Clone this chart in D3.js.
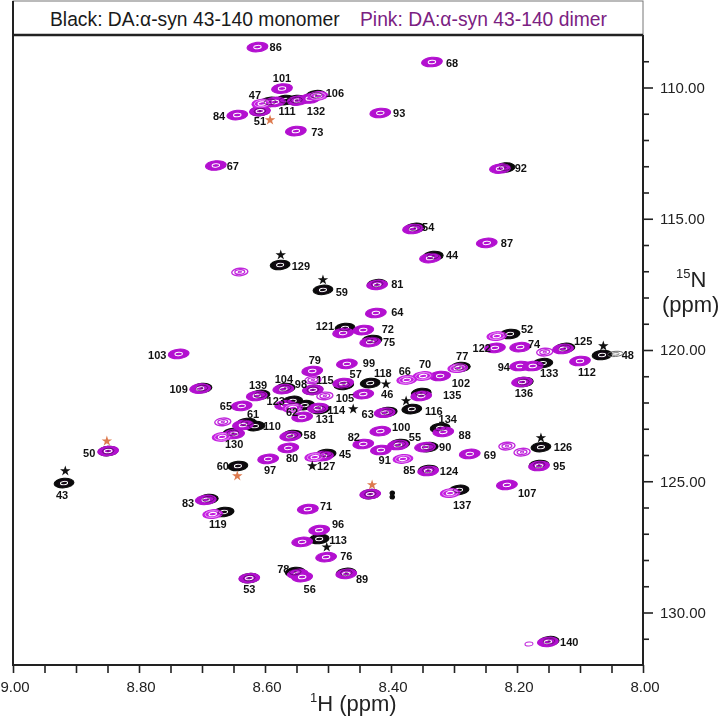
<!DOCTYPE html>
<html><head><meta charset="utf-8">
<script src="https://cdnjs.cloudflare.com/ajax/libs/d3/7.8.5/d3.min.js"></script>
<style>html,body{margin:0;padding:0;background:#fff}svg{display:block}text{font-family:"Liberation Sans",Arial,sans-serif}</style>
</head><body><div id="chart"></div>
<script>
// 1H ppm, 15N ppm
const monomerPeaks = [[8.519,110.29],[8.592,110.55],[8.568,110.48],[8.550,110.48],[8.608,110.90],[8.219,113.05],[8.362,115.35],[8.576,116.76],[8.333,116.42],[8.508,117.71],[8.422,117.49],[8.473,119.16],[8.430,119.62],[8.700,121.45],[8.475,121.33],[8.433,121.26],[8.524,121.52],[8.568,121.45],[8.608,121.71],[8.556,121.94],[8.537,122.10],[8.513,122.25],[8.406,122.36],[8.629,122.78],[8.616,122.90],[8.651,123.16],[8.557,123.24],[8.643,124.42],[8.503,123.96],[8.211,119.39],[8.124,119.92],[8.065,120.19],[8.159,120.50],[8.190,121.22],[8.290,120.65],[8.352,121.64],[8.367,122.25],[8.322,122.97],[8.386,123.58],[8.341,123.70],[8.162,123.70],[8.165,124.38],[8.341,124.57],[8.292,125.33],[8.849,123.85],[8.919,125.07],[8.690,125.68],[8.665,126.17],[8.625,128.69],[8.552,128.46],[8.514,127.20],[8.471,128.49],[8.149,131.09],[8.433,125.49]];
const dimerPeaks = [[8.612,108.46],[8.573,110.04],[8.584,110.55],[8.548,110.50],[8.529,110.42],[8.608,110.90],[8.644,111.05],[8.551,111.66],[8.678,112.97],[8.335,109.03],[8.417,110.97],[8.227,113.09],[8.365,115.39],[8.248,115.92],[8.338,116.50],[8.422,117.52],[8.424,118.59],[8.476,119.35],[8.444,119.24],[8.433,119.70],[8.737,120.15],[8.703,121.47],[8.525,120.80],[8.470,120.53],[8.476,121.26],[8.524,121.52],[8.571,121.49],[8.613,121.75],[8.444,121.68],[8.568,122.10],[8.516,122.21],[8.541,122.55],[8.410,122.39],[8.637,122.13],[8.635,122.86],[8.649,123.20],[8.560,123.28],[8.563,123.73],[8.595,124.15],[8.508,124.04],[8.444,123.58],[8.417,123.09],[8.416,123.81],[8.235,119.92],[8.195,119.89],[8.127,119.96],[8.100,120.42],[8.195,120.61],[8.175,120.61],[8.192,121.22],[8.322,120.99],[8.352,121.75],[8.317,123.12],[8.389,123.62],[8.346,123.70],[8.275,123.96],[8.165,124.42],[8.341,124.61],[8.216,125.14],[8.849,123.85],[8.694,125.71],[8.625,128.69],[8.548,128.53],[8.541,128.65],[8.532,126.06],[8.514,126.86],[8.541,127.31],[8.503,127.89],[8.471,128.53],[8.151,131.12],[8.433,125.49]];
const lightDimerPeaks = [[8.605,110.61],[8.516,110.32],[8.556,122.21],[8.668,123.31],[8.521,124.08],[8.232,119.47],[8.294,120.69],[8.349,120.99],[8.375,121.14],[8.381,124.15],[8.306,125.45],[8.683,126.25]];
const openDimerPeaks = [[8.640,117.03],[8.524,121.14],[8.505,121.75],[8.667,122.74],[8.156,120.08],[8.216,123.66],[8.192,123.89]];
const tinyDimerPeaks = [[8.181,131.20]];
const faintMonomerPeaks = [[8.044,120.15]];
const tinyMonomerPeaks = [[8.398,125.45],[8.398,125.60]];
const residueLabels = [["86",8.583,108.46],["101",8.573,109.64],["106",8.489,110.21],["47",8.616,110.29],["111",8.565,110.90],["132",8.519,110.90],["51",8.608,111.28],["84",8.673,111.09],["73",8.517,111.70],["67",8.651,112.99],["68",8.303,109.07],["93",8.387,110.97],["92",8.194,113.07],["54",8.341,115.31],["87",8.216,115.92],["129",8.543,116.80],["44",8.303,116.38],["59",8.478,117.79],["81",8.390,117.49],["64",8.390,118.55],["121",8.505,119.09],["72",8.405,119.20],["75",8.403,119.70],["52",8.184,119.20],["103",8.771,120.19],["74",8.173,119.77],["122",8.256,119.92],["125",8.095,119.66],["48",8.024,120.19],["94",8.221,120.65],["133",8.149,120.88],["112",8.089,120.84],["136",8.189,121.64],["77",8.287,120.23],["70",8.346,120.53],["66",8.378,120.80],["102",8.289,121.26],["99",8.435,120.50],["79",8.521,120.38],["57",8.456,120.91],["118",8.413,120.88],["115",8.505,121.14],["98",8.543,121.30],["104",8.570,121.10],["139",8.611,121.33],["46",8.406,121.68],["105",8.473,121.83],["123",8.583,121.94],["62",8.557,122.36],["114",8.487,122.29],["131",8.505,122.63],["63",8.437,122.44],["65",8.662,122.13],["61",8.619,122.44],["110",8.589,122.90],["130",8.649,123.58],["58",8.529,123.24],["80",8.557,124.11],["97",8.592,124.57],["60",8.667,124.42],["45",8.473,123.96],["127",8.503,124.42],["82",8.459,123.31],["100",8.384,122.93],["91",8.410,124.19],["135",8.303,121.71],["116",8.332,122.32],["134",8.310,122.63],["88",8.283,123.24],["55",8.362,123.31],["90",8.314,123.70],["69",8.243,124.00],["126",8.127,123.70],["95",8.133,124.42],["85",8.371,124.57],["124",8.308,124.61],["107",8.184,125.45],["137",8.287,125.90],["109",8.737,121.49],["50",8.879,123.92],["43",8.922,125.52],["83",8.722,125.83],["119",8.675,126.63],["53",8.625,129.10],["78",8.571,128.34],["56",8.529,129.10],["71",8.503,125.94],["96",8.484,126.63],["113",8.484,127.24],["76",8.471,127.85],["89",8.446,128.72],["140",8.117,131.12]];
const blackStars = [[8.917,124.61],[8.575,116.38],[8.508,117.33],[8.408,121.30],[8.460,122.25],[8.376,121.94],[8.162,123.35],[8.063,119.85],[8.525,124.42],[8.502,127.51]];
const orangeStars = [[8.851,123.47],[8.592,111.24],[8.644,124.80],[8.430,125.14]];
const hTicks = [9.0,8.8,8.6,8.4,8.2,8.0];
const hMinor = [8.95,8.9,8.85,8.75,8.7,8.65,8.55,8.5,8.45,8.35,8.3,8.25,8.15,8.1,8.05];
const nTicks = [110,115,120,125,130];
const nMinor = [109,111,112,113,114,116,117,118,119,121,122,123,124,126,127,128,129,131];

const svg = d3.select("#chart").append("svg").attr("width",720).attr("height",717);
const x = d3.scaleLinear().domain([9,8]).range([13,643]);
const y = d3.scaleLinear().domain([108,132]).range([35,665]);
const MAG="#b310d0", BLK="#0a0a0a";

// title box
svg.append("rect").attr("x",13).attr("y",1).attr("width",630).attr("height",34).attr("fill","#fff").attr("stroke","#777").attr("stroke-width",1);
svg.append("text").attr("x",50).attr("y",26).attr("font-size",19.3).attr("fill","#1a1a1a").text("Black: DA:α-syn 43-140 monomer");
svg.append("text").attr("x",360).attr("y",26).attr("font-size",19.3).attr("fill","#7b2182").text("Pink: DA:α-syn 43-140 dimer");

function peaks(data,col,rx,ry,levels,opacity){
  const g=svg.append("g").attr("opacity",opacity==null?1:opacity);
  const sel=g.selectAll("g").data(data).join("g")
    .attr("transform",d=>`translate(${x(d[0])},${y(d[1])}) rotate(-5)`);
  levels.forEach(l=>{
    sel.append("ellipse").attr("rx",l.r*rx).attr("ry",l.r*ry)
      .attr("fill",l.fill?col:"none").attr("stroke",l.c||col).attr("stroke-width",l.w||1);
  });
}
const solid=[{r:.95,w:1,fill:true},{r:.34,w:1,c:"#fff"},{r:.1,w:.8}];
const lightRings=[{r:.95,w:1,fill:true},{r:.72,w:.7,c:"#f3c6fa"},{r:.36,w:1.1,c:"#fff"},{r:.1,w:.8}];
const openRings=[{r:.95,w:1.4},{r:.58,w:1.3},{r:.2,w:1}];

peaks(monomerPeaks,BLK,10.5,5,solid);
peaks(faintMonomerPeaks,"#666",8,2.6,[{r:1,w:.9},{r:.5,w:.8}]);
peaks(tinyMonomerPeaks,BLK,2.2,2,[{r:1,w:1.2,fill:true}]);
peaks(openDimerPeaks,"#c028dc",8.5,4,openRings);
peaks(tinyDimerPeaks,"#c028dc",4,2,[{r:1,w:1}]);
peaks(dimerPeaks,MAG,11,5,solid);
peaks(lightDimerPeaks,"#c41ee0",10.5,4.6,lightRings);
// monomer core visible through the overlaid dimer contours
peaks(monomerPeaks,"#2a0a30",10.5,5,[{r:.55,w:.9},{r:.12,w:.8}],.6);

// axes frame
const axG=svg.append("g").attr("fill","none").attr("stroke","#222");
axG.append("path").attr("d",`M13,1V665H643V35`).attr("stroke-width",2);
axG.append("path").attr("d",`M13,35H643`).attr("stroke-width",2.4);

const bottom=d3.axisBottom(x).tickValues(hTicks).tickFormat(d3.format(".2f")).tickSize(8).tickPadding(8);
const gb=svg.append("g").attr("transform","translate(0,665)").call(bottom);
gb.select(".domain").remove();
gb.selectAll("line").attr("stroke","#222").attr("stroke-width",1.6);
gb.selectAll("text").attr("font-size",15).attr("fill","#222").attr("font-family",'"Liberation Sans"').attr("dx",1.5);
svg.append("g").attr("transform","translate(0,665)").call(d3.axisBottom(x).tickValues(hMinor).tickFormat("").tickSize(8))
  .call(s=>s.select(".domain").remove()).selectAll("line").attr("stroke","#222").attr("stroke-width",1.6);

const right=d3.axisRight(y).tickValues(nTicks).tickFormat(d3.format(".2f")).tickSize(10).tickPadding(7);
const gr=svg.append("g").attr("transform","translate(643,0)").call(right);
gr.select(".domain").remove();
gr.selectAll("line").attr("stroke","#222").attr("stroke-width",1.6);
gr.selectAll("text").attr("font-size",15).attr("fill","#222").attr("font-family",'"Liberation Sans"');
svg.append("g").attr("transform","translate(643,0)").call(d3.axisRight(y).tickValues(nMinor).tickFormat("").tickSize(6))
  .call(s=>s.select(".domain").remove()).selectAll("line").attr("stroke","#222").attr("stroke-width",1.6);

// residue labels
svg.append("g").selectAll("text").data(residueLabels).join("text")
  .attr("x",d=>x(d[1])).attr("y",d=>y(d[2])).attr("dy","0.36em").attr("text-anchor","middle")
  .attr("font-size",11).attr("font-weight","bold").attr("fill","#111").text(d=>d[0]);

// assignment stars
function stars(data,col){
  svg.append("g").selectAll("path").data(data).join("path")
    .attr("transform",d=>`translate(${x(d[0])},${y(d[1])})`)
    .attr("d",d3.symbol(d3.symbolStar,34)()).attr("fill",col);
}
stars(blackStars,"#111"); stars(orangeStars,"#dd7a4e");

// axis titles
const t1=svg.append("text").attr("x",310).attr("y",711).attr("font-size",22).attr("fill","#222");
t1.append("tspan").attr("font-size",13).attr("dy",-9).text("1");
t1.append("tspan").attr("dy",9).text("H (ppm)");
const t2=svg.append("text").attr("x",676).attr("y",287).attr("font-size",22).attr("fill","#222");
t2.append("tspan").attr("font-size",13).attr("dy",-9).text("15");
t2.append("tspan").attr("dy",9).text("N");
svg.append("text").attr("x",662).attr("y",312).attr("font-size",22).attr("fill","#222").text("(ppm)");
</script></body></html>
